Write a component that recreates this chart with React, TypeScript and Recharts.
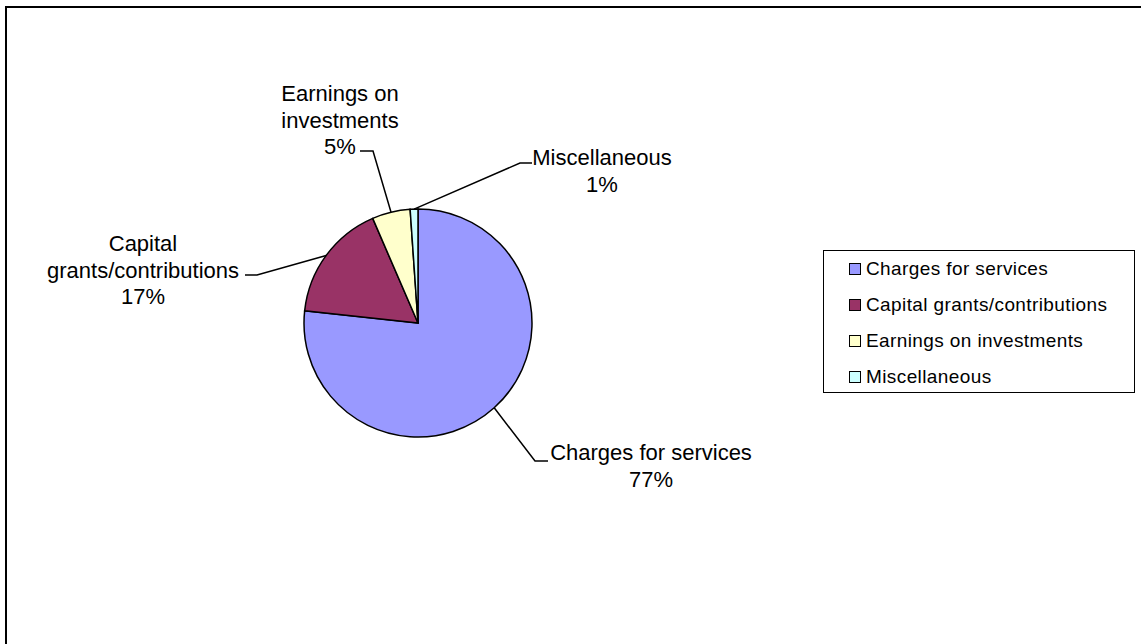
import React from "react";
import { PieChart, Pie, Cell, Legend } from "recharts";

// 데이터
const CATEGORIES = [
  "Charges for services",
  "Capital grants/contributions",
  "Earnings on investments",
  "Miscellaneous",
];
const VALUES = [76.7, 16.8, 5.4, 1.1];
const COLORS = ["#9999FF", "#993366", "#FFFFCC", "#CCFFFF"];
const LABEL_LINES = [
  ["Charges for services"],
  ["Capital", "grants/contributions"],
  ["Earnings on", "investments"],
  ["Miscellaneous"],
];

// label placement, offsets from the pie centre
const LABEL_LAYOUT = [
  { elbow: [117, 138], tail: [130, 138], text: [233, 129] },
  { elbow: [-161, -48], tail: [-173, -48], text: [-275, -80] },
  { elbow: [-45, -172], tail: [-58, -172], text: [-78, -230] },
  { elbow: [102, -160], tail: [114, -160], text: [184, -166] },
];

const FONT = "'Liberation Sans', Arial, sans-serif";
const LINE_H = 26.5;

const chartData = CATEGORIES.map((name, i) => ({ name, value: VALUES[i] }));

const renderLabel = (props: any) => {
  const { cx, cy, midAngle, outerRadius, index, percent } = props;
  const RAD = Math.PI / 180;
  const sx = cx + outerRadius * Math.cos(-midAngle * RAD);
  const sy = cy + outerRadius * Math.sin(-midAngle * RAD);
  const lay = LABEL_LAYOUT[index];
  const lines = [...LABEL_LINES[index], `${Math.round(percent * 100)}%`];
  const tx = cx + lay.text[0];
  const ty = cy + lay.text[1];
  return (
    <g>
      <polyline
        points={`${sx},${sy} ${cx + lay.elbow[0]},${cy + lay.elbow[1]} ${
          cx + lay.tail[0]
        },${cy + lay.tail[1]}`}
        fill="none"
        stroke="#000"
        strokeWidth={1.5}
      />
      <text
        textAnchor="middle"
        fontFamily={FONT}
        fontSize={22}
        fill="#000"
      >
        {lines.map((l, i) => (
          <tspan key={i} x={tx} y={ty + i * LINE_H + 8}>
            {l}
          </tspan>
        ))}
      </text>
    </g>
  );
};

const LegendBox = (props: any) => {
  // keep the data order, not alphabetical
  const items = [...(props.payload || [])].sort(
    (a: any, b: any) => CATEGORIES.indexOf(a.value) - CATEGORIES.indexOf(b.value)
  );
  return (
    <div
      style={{
        border: "1.5px solid #000",
        background: "#fff",
        boxSizing: "border-box",
        width: "100%",
        height: "100%",
        padding: "0 0 0 25px",
        fontFamily: FONT,
        fontSize: 19,
        letterSpacing: 0.4,
        color: "#000",
      }}
    >
      {items.map((entry: any) => (
        <div
          key={entry.value}
          style={{ display: "flex", alignItems: "center", height: 36 }}
        >
          <span
            style={{
              display: "inline-block",
              width: 10,
              height: 10,
              border: "1.5px solid #000",
              background: entry.color,
              marginRight: 5,
            }}
          />
          <span>{entry.value}</span>
        </div>
      ))}
    </div>
  );
};

export default function App() {
  return (
    <div
      style={{
        position: "absolute",
        left: 0,
        top: 0,
        width: 1141,
        height: 644,
        overflow: "hidden",
        background: "#fff",
      }}
    >
      <div
        style={{
          position: "absolute",
          left: 5,
          top: 6,
          width: 1160,
          height: 660,
          border: "2px solid #000",
        }}
      />
      <div style={{ position: "absolute", left: 0, top: 0 }}>
        <PieChart
          width={1141}
          height={644}
          margin={{ top: 0, right: 0, bottom: 0, left: 0 }}
        >
          <Pie
            data={chartData}
            dataKey="value"
            nameKey="name"
            cx={418}
            cy={323}
            outerRadius={114}
            startAngle={90}
            endAngle={-270}
            stroke="#000"
            strokeWidth={1.5}
            label={renderLabel}
            labelLine={false}
            isAnimationActive={false}
          >
            {chartData.map((d, i) => (
              <Cell key={d.name} fill={COLORS[i]} />
            ))}
          </Pie>
          <Legend
            content={<LegendBox />}
            wrapperStyle={{ left: 823, top: 250, width: 312, height: 143 }}
          />
        </PieChart>
      </div>
    </div>
  );
}
